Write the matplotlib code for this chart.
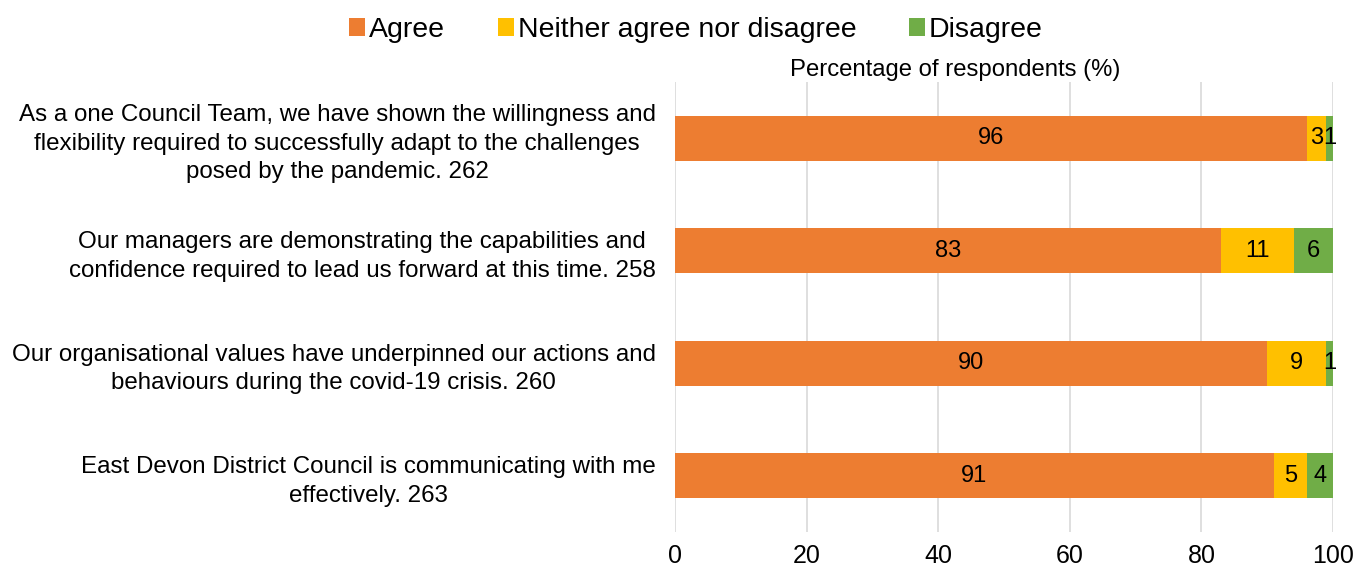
import matplotlib.pyplot as plt
import numpy as np

plt.rcParams['font.family'] = ['Liberation Sans', 'DejaVu Sans']

questions = [
    "As a one Council Team, we have shown the willingness and\nflexibility required to successfully adapt to the challenges\nposed by the pandemic. 262",
    "Our managers are demonstrating the capabilities and\nconfidence required to lead us forward at this time. 258",
    "Our organisational values have underpinned our actions and\nbehaviours during the covid-19 crisis. 260",
    "East Devon District Council is communicating with me\neffectively. 263",
]
agree = [96, 83, 90, 91]
neither = [3, 11, 9, 5]
disagree = [1, 6, 1, 4]

series = [
    ("Agree", agree, "#ed7d31"),
    ("Neither agree nor disagree", neither, "#ffc000"),
    ("Disagree", disagree, "#70ad47"),
]

fig = plt.figure(figsize=(13.57, 5.68), dpi=100)
ax = fig.add_axes([0.4974, 0.0634, 0.4849, 0.7926])

y = np.arange(len(questions))
left = np.zeros(len(questions))
for name, vals, col in series:
    bars = ax.barh(y, vals, left=left, height=0.4, color=col, label=name, zorder=2)
    ax.bar_label(bars, labels=[str(v) for v in vals], label_type='center', fontsize=17)
    left += np.array(vals)

ax.set_ylim(len(questions) - 0.5, -0.5)
ax.set_xlim(0, 100)
ax.set_xticks([0, 20, 40, 60, 80, 100])
ax.tick_params(axis='x', length=0, labelsize=18, pad=9)
ax.set_yticks(y)
ax.set_yticklabels(questions, multialignment='center', fontsize=17.4, linespacing=1.38)
ax.tick_params(axis='y', length=0, pad=14)
ax.grid(axis='x', color='#d9d9d9', linewidth=1.2, zorder=0)
for s in ax.spines.values():
    s.set_visible(False)

fig.text(955 / 1357, 1 - 70 / 568, "Percentage of respondents (%)", ha='center', va='center', fontsize=17.2)
fig.legend(loc='center', bbox_to_anchor=(0.513, 1 - 30 / 568), ncol=3, frameon=False, fontsize=20.5,
           handlelength=0.55, handleheight=0.55, handletextpad=0.15, columnspacing=1.85)

plt.savefig('out.png', dpi=100)
